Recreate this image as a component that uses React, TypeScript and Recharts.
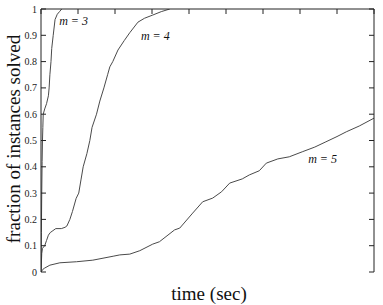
import React from 'react';
import { LineChart, Line, XAxis, YAxis, ReferenceDot } from 'recharts';

const m3Times = [0, 0.1, 0.2, 0.3, 0.4, 0.5, 0.6, 1.0, 1.5, 2.0, 2.2, 2.4, 2.7, 2.9, 3.3, 3.8, 4.4, 5.0, 5.6];
const m3Fractions = [0, 0.15, 0.3, 0.42, 0.5, 0.55, 0.6, 0.62, 0.64, 0.67, 0.7, 0.75, 0.8, 0.85, 0.9, 0.96, 0.98, 0.99, 1.0];

const m4Times = [0, 0.2, 0.4, 1.0, 1.5, 2.0, 2.5, 3.0, 4.0, 5.5, 6.5, 7.0, 7.8, 8.5, 9.5, 10.2, 10.8, 11.4, 12.4, 13.2, 13.8, 15.0, 15.9, 17.0, 18.0, 18.6, 19.4, 20.8, 22.5, 24.0, 26.2, 28.0, 30.2, 32.5, 34.8];
const m4Fractions = [0, 0.07, 0.09, 0.1, 0.12, 0.14, 0.15, 0.155, 0.165, 0.165, 0.17, 0.175, 0.2, 0.23, 0.28, 0.3, 0.35, 0.4, 0.45, 0.5, 0.55, 0.6, 0.65, 0.7, 0.75, 0.78, 0.8, 0.844, 0.88, 0.91, 0.95, 0.965, 0.977, 0.99, 1.0];

const m5Times = [0, 0.5, 1, 2.4, 5.1, 9.6, 14, 19.5, 21.3, 24, 26.7, 30.2, 32, 36.1, 37.5, 41, 43.7, 46.4, 48.8, 51, 54.4, 56.3, 59, 60.9, 64, 67.1, 70.6, 74, 77, 80, 82.5, 86, 90];
const m5Fractions = [0, 0.01, 0.015, 0.026, 0.035, 0.039, 0.045, 0.06, 0.065, 0.068, 0.081, 0.106, 0.115, 0.16, 0.167, 0.224, 0.267, 0.281, 0.305, 0.338, 0.354, 0.369, 0.385, 0.414, 0.43, 0.438, 0.457, 0.475, 0.495, 0.515, 0.533, 0.555, 0.585];

const xTicks = [0, 10, 20, 30, 40, 50, 60, 70, 80, 90];
const yTicks = [0, 0.1, 0.2, 0.3, 0.4, 0.5, 0.6, 0.7, 0.8, 0.9, 1];

const seriesLabels = ['m = 3', 'm = 4', 'm = 5'];
const labelTimes = [4.9, 27, 72.2];
const labelFractions = [0.94, 0.882, 0.414];

const xTitle = 'time (sec)';
const yTitle = 'fraction of instances solved';

const build = (ts: number[], vs: number[]) => ts.map((t, i) => ({ t, v: vs[i] }));
const series = [build(m3Times, m3Fractions), build(m4Times, m4Fractions), build(m5Times, m5Fractions)];

const SERIF = '"Liberation Serif", "DejaVu Serif", serif';
const axisStroke = '#222';
const lineStroke = '#4a4a4a';

const XTick = (props: any) => (
  <text x={props.x} y={props.y} dy="0.71em" textAnchor="middle" fontFamily="Liberation Serif" fontSize={10} fill="#222">
    {props.payload.value}
  </text>
);

const YTick = (props: any) => (
  <text x={props.x} y={props.y} dy="0.35em" textAnchor="end" fontFamily="Liberation Serif" fontSize={10} fill="#222">
    {props.payload.value}
  </text>
);

const makeLabel = (text: string) => (props: any) => {
  const vb = props.viewBox || {};
  return (
    <text x={vb.x} y={vb.y} textAnchor="start" fontFamily="Liberation Serif" fontStyle="italic" fontSize={12} fill="#111">
      {text}
    </text>
  );
};

export default function App() {
  return (
    <div style={{ position: 'absolute', left: 0, top: 0, width: 383, height: 305, background: '#fff' }}>
      <style>{`.recharts-wrapper text { font-family: ${SERIF}; }`}</style>
      <LineChart width={383} height={305} margin={{ top: 8, right: 8, bottom: 33, left: 0 }}>
        <XAxis
          type="number"
          dataKey="t"
          domain={[0, 90]}
          ticks={xTicks}
          allowDataOverflow
          height={0}
          tickSize={-5}
          tickMargin={9}
          tick={<XTick />}
          stroke={axisStroke}
          tickLine={{ stroke: axisStroke }}
          axisLine={{ stroke: axisStroke }}
        />
        <XAxis
          xAxisId="top"
          orientation="top"
          type="number"
          dataKey="t"
          domain={[0, 90]}
          ticks={xTicks}
          allowDataOverflow
          height={1}
          tickSize={-5}
          tick={() => <g />}
          stroke={axisStroke}
          tickLine={{ stroke: axisStroke }}
          axisLine={{ stroke: axisStroke }}
        />
        <YAxis
          type="number"
          domain={[0, 1]}
          ticks={yTicks}
          allowDataOverflow
          width={41}
          tickSize={-5}
          tickMargin={9}
          tick={<YTick />}
          stroke={axisStroke}
          tickLine={{ stroke: axisStroke }}
          axisLine={{ stroke: axisStroke }}
        />
        <YAxis
          yAxisId="r"
          orientation="right"
          type="number"
          domain={[0, 1]}
          ticks={yTicks}
          allowDataOverflow
          width={1}
          tickSize={-5}
          tick={() => <g />}
          stroke={axisStroke}
          tickLine={{ stroke: axisStroke }}
          axisLine={{ stroke: axisStroke }}
        />
        {series.map((d, i) => (
          <Line
            key={i}
            data={d}
            dataKey="v"
            type="linear"
            xAxisId={i === 2 ? 'top' : 0}
            yAxisId={i === 2 ? 'r' : 0}
            stroke={lineStroke}
            strokeWidth={1}
            dot={false}
            activeDot={false}
            isAnimationActive={false}
          />
        ))}
        {seriesLabels.map((s, i) => (
          <ReferenceDot
            key={s}
            x={labelTimes[i]}
            y={labelFractions[i]}
            r={0}
            fill="none"
            stroke="none"
            label={makeLabel(s)}
          />
        ))}
      </LineChart>
      <svg width={383} height={305} style={{ position: 'absolute', left: 0, top: 0, pointerEvents: 'none' }}>
        <text x={209} y={300} textAnchor="middle" fontFamily="Liberation Serif" fontSize={19} fill="#111">
          {xTitle}
        </text>
        <text
          x={0}
          y={0}
          transform="translate(20,139) rotate(-90)"
          textAnchor="middle"
          fontFamily="Liberation Serif"
          fontSize={19}
          fill="#111"
        >
          {yTitle}
        </text>
      </svg>
    </div>
  );
}
